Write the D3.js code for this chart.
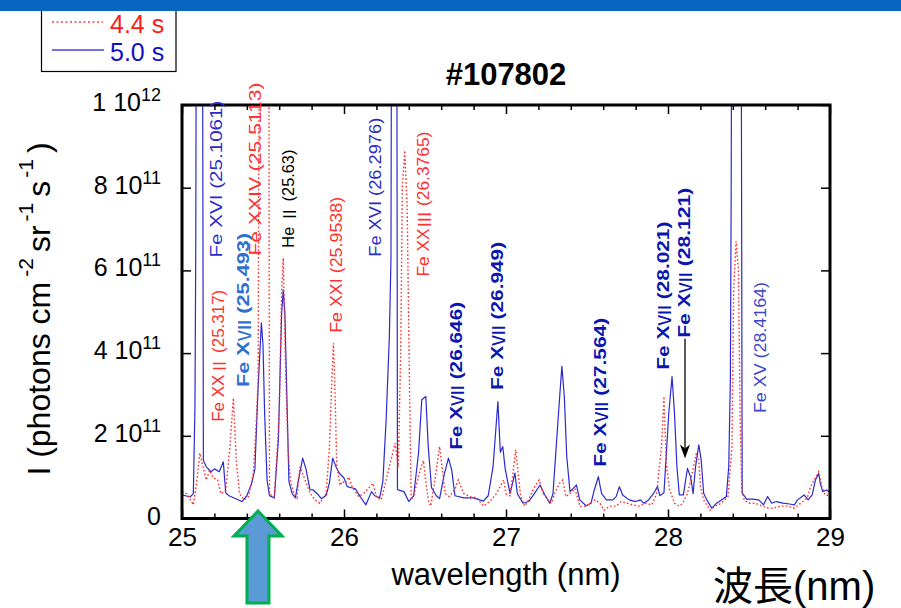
<!DOCTYPE html>
<html><head><meta charset="utf-8">
<script src="https://cdn.jsdelivr.net/npm/d3@7"></script>
<style>
body{margin:0;background:#fff}
svg{display:block}
text{font-family:"Liberation Sans",Arial,"Noto Sans CJK JP",sans-serif}
</style>
</head><body>
<svg id="c" width="901" height="608"></svg>
<script>
// intensity in units of 1e11 photons cm^-2 sr^-1 s^-1 ; wavelength in nm
const spectrum50 = [[25.00,0.57],[25.05,0.52],[25.07,0.60],[25.08,2.70],[25.085,6.60],[25.09,16],[25.125,16],[25.132,1.40],[25.15,1.25],[25.18,1.13],[25.20,1.20],[25.23,1.13],[25.255,1.37],[25.27,0.62],[25.29,0.55],[25.37,0.41],[25.40,0.55],[25.43,0.85],[25.45,1.20],[25.47,3.19],[25.49,4.73],[25.50,4.20],[25.51,2.55],[25.525,0.93],[25.54,0.55],[25.57,0.50],[25.595,1.90],[25.615,4.97],[25.625,5.53],[25.635,4.97],[25.645,3.35],[25.66,0.90],[25.68,0.60],[25.70,0.50],[25.715,0.85],[25.745,1.46],[25.765,1.20],[25.79,0.70],[25.81,0.69],[25.84,0.58],[25.86,0.48],[25.89,0.56],[25.91,0.86],[25.93,1.46],[25.95,1.26],[25.97,1.10],[26.00,0.98],[26.02,0.77],[26.04,0.75],[26.07,0.72],[26.10,0.53],[26.135,0.33],[26.17,0.65],[26.19,0.55],[26.22,0.50],[26.24,0.90],[26.26,2.38],[26.28,4.40],[26.29,6.30],[26.295,16],[26.325,16],[26.33,0.70],[26.37,0.65],[26.40,0.41],[26.43,0.55],[26.46,1.58],[26.48,2.87],[26.505,2.95],[26.52,1.74],[26.54,0.75],[26.57,0.55],[26.59,0.48],[26.62,1.09],[26.645,1.46],[26.665,1.17],[26.685,0.55],[26.74,0.50],[26.80,0.50],[26.86,0.42],[26.89,0.55],[26.92,1.25],[26.95,2.83],[26.965,1.60],[26.98,1.74],[26.995,1.20],[27.025,0.60],[27.055,1.10],[27.07,0.60],[27.105,0.37],[27.14,0.41],[27.17,0.57],[27.21,0.81],[27.24,0.57],[27.27,0.37],[27.29,0.60],[27.31,1.74],[27.33,2.87],[27.345,3.68],[27.36,2.95],[27.375,1.50],[27.395,0.65],[27.415,0.73],[27.435,0.81],[27.455,0.45],[27.495,0.31],[27.525,0.37],[27.545,0.69],[27.57,1.01],[27.59,0.60],[27.62,0.45],[27.66,0.45],[27.68,0.53],[27.70,0.77],[27.72,0.57],[27.76,0.45],[27.80,0.41],[27.83,0.45],[27.85,0.37],[27.88,0.45],[27.91,0.60],[27.935,0.77],[27.95,0.55],[27.975,0.62],[27.99,1.58],[28.005,2.55],[28.025,3.43],[28.04,2.55],[28.055,1.25],[28.07,0.57],[28.095,0.57],[28.12,1.21],[28.14,1.00],[28.155,0.60],[28.17,1.25],[28.19,1.78],[28.205,1.41],[28.22,0.61],[28.24,0.45],[28.27,0.25],[28.30,0.37],[28.33,0.45],[28.36,0.53],[28.375,1.25],[28.385,3.35],[28.39,7.90],[28.395,16],[28.45,16],[28.458,0.62],[28.485,0.47],[28.52,0.47],[28.56,0.45],[28.59,0.33],[28.615,0.53],[28.64,0.37],[28.67,0.41],[28.71,0.37],[28.75,0.35],[28.78,0.33],[28.80,0.45],[28.84,0.57],[28.865,0.45],[28.89,0.57],[28.91,0.93],[28.93,1.09],[28.94,0.85],[28.955,0.65],[28.98,0.69],[29.00,0.63]];

const spectrum44 = [[25.00,0.65],[25.03,0.60],[25.07,0.33],[25.09,0.85],[25.11,1.58],[25.13,1.25],[25.15,0.93],[25.17,1.17],[25.19,1.00],[25.22,0.93],[25.24,0.60],[25.27,0.69],[25.296,1.74],[25.317,2.91],[25.335,1.42],[25.355,0.60],[25.385,0.45],[25.41,0.53],[25.44,1.09],[25.455,2.07],[25.47,3.35],[25.48,16],[25.535,16],[25.54,0.60],[25.57,0.50],[25.60,2.50],[25.615,5.50],[25.625,6.30],[25.64,3.50],[25.655,1.60],[25.67,0.90],[25.69,0.60],[25.71,0.50],[25.728,1.25],[25.76,0.93],[25.79,0.62],[25.82,0.45],[25.85,0.37],[25.89,0.60],[25.91,1.74],[25.925,3.35],[25.935,4.24],[25.945,3.00],[25.955,1.30],[25.975,0.80],[25.99,0.90],[26.006,0.85],[26.03,1.00],[26.05,0.77],[26.09,0.53],[26.12,0.60],[26.16,0.77],[26.18,0.85],[26.20,0.53],[26.23,0.45],[26.26,0.93],[26.295,1.50],[26.315,1.82],[26.335,1.25],[26.35,4.00],[26.36,8.00],[26.375,8.90],[26.39,7.50],[26.405,3.00],[26.415,0.45],[26.43,0.55],[26.47,1.17],[26.49,1.40],[26.505,0.90],[26.52,0.45],[26.535,0.30],[26.56,0.90],[26.59,1.74],[26.605,1.25],[26.625,0.60],[26.65,0.53],[26.685,0.70],[26.705,0.93],[26.74,0.60],[26.78,0.53],[26.82,0.50],[26.86,0.30],[26.90,0.41],[26.94,0.60],[26.985,0.93],[27.00,0.60],[27.025,0.55],[27.045,1.17],[27.06,1.66],[27.075,1.10],[27.09,0.55],[27.115,0.30],[27.14,0.45],[27.17,0.73],[27.205,0.93],[27.23,0.60],[27.26,0.45],[27.28,0.37],[27.30,0.60],[27.33,0.85],[27.35,0.93],[27.37,0.53],[27.395,0.60],[27.425,0.73],[27.457,0.29],[27.49,0.30],[27.52,0.37],[27.55,0.45],[27.58,0.37],[27.605,0.20],[27.64,0.30],[27.68,0.30],[27.71,0.41],[27.75,0.37],[27.78,0.33],[27.82,0.30],[27.86,0.37],[27.90,0.33],[27.93,0.60],[27.96,1.74],[27.975,2.95],[27.99,1.30],[28.01,0.70],[28.04,0.37],[28.07,0.30],[28.09,0.37],[28.12,0.60],[28.14,0.93],[28.175,1.58],[28.19,1.42],[28.20,0.77],[28.22,0.45],[28.26,0.20],[28.29,0.30],[28.33,0.37],[28.37,0.53],[28.395,1.74],[28.405,5.50],[28.42,6.70],[28.435,6.00],[28.445,2.50],[28.455,0.70],[28.47,0.45],[28.50,0.37],[28.54,0.37],[28.58,0.30],[28.62,0.25],[28.65,0.25],[28.70,0.30],[28.74,0.30],[28.78,0.25],[28.82,0.37],[28.86,0.50],[28.88,0.77],[28.93,1.13],[28.95,0.77],[28.97,0.57],[29.00,0.55]];

const seriesNames = ["4.4 s", "5.0 s"];
const xMajorTicks = [25, 26, 27, 28, 29];
const yMajorTicks = [0, 2, 4, 6, 8, 10];
const yTickLabels = [["0",""],["2 10","11"],["4 10","11"],["6 10","11"],["8 10","11"],["1 10","12"]];

// line labels: text, anchor wavelength (label centre), anchor intensity (label start), kind
const lineLabels = [
  ["Fe XVI (25.1061)", 25.210, 6.31, "blue"],
  ["Fe XXIV (25.5113)", 25.451, 6.36, "red"],
  ["He Ⅱ (25.63)", 25.654, 6.55, "black"],
  ["Fe XXI (25.9538)", 25.951, 4.49, "red"],
  ["Fe XVI (26.2976)", 26.191, 6.33, "blue"],
  ["Fe XXⅢ (26.3765)", 26.488, 5.85, "red"],
  ["Fe XXⅡ (25.317)", 25.222, 2.34, "red"],
  ["Fe XⅦ (25.493)", 25.377, 3.18, "mid"],
  ["Fe XⅦ (26.646)", 26.691, 1.66, "dark"],
  ["Fe XⅦ (26.949)", 26.944, 3.11, "dark"],
  ["Fe XⅦ (27.564)", 27.580, 1.25, "dark"],
  ["Fe XⅦ (28.021)", 27.969, 3.60, "dark"],
  ["Fe XⅦ (28.121)", 28.099, 4.37, "dark"],
  ["Fe XV (28.4164)", 28.568, 2.55, "blue2"]
];
const labelLengths = [157,173,98,136,139,145,132,154,148,148,149,148,150,131];

const svg = d3.select("#c");
const x = d3.scaleLinear([25, 29], [182, 830]);
const y = d3.scaleLinear([0, 10], [518.5, 105]);

// legend
const lg = svg.append("g");
lg.append("rect").attr("x",41.5).attr("y",4).attr("width",134.5).attr("height",67.5)
  .attr("fill","#fff").attr("stroke","#000").attr("stroke-width",1.2);
lg.append("line").attr("x1",52).attr("x2",103).attr("y1",22).attr("y2",22)
  .attr("stroke","#ff4040").attr("stroke-width",1.3).attr("stroke-dasharray","2,2.5");
lg.append("line").attr("x1",52).attr("x2",104).attr("y1",50).attr("y2",50)
  .attr("stroke","#4545d8").attr("stroke-width",1.5);
lg.append("text").attr("x",110).attr("y",33).attr("font-size",25).attr("fill","#ff1a1a").text(seriesNames[0]);
lg.append("text").attr("x",110).attr("y",61).attr("font-size",25).attr("fill","#1010c0").text(seriesNames[1]);
// top band
svg.append("rect").attr("x",0).attr("y",0).attr("width",901).attr("height",11).attr("fill","#0865c0");

// title
svg.append("text").attr("x",506).attr("y",85).attr("text-anchor","middle")
  .attr("font-size",31).attr("font-weight","bold").text("#107802");

// clip
svg.append("clipPath").attr("id","pc").append("rect")
  .attr("x",182).attr("y",105).attr("width",648).attr("height",413.5);

const line = d3.line().x(d => x(d[0])).y(d => y(d[1]));
const plot = svg.append("g").attr("clip-path","url(#pc)");
plot.append("path").datum(spectrum50).attr("d",line).attr("fill","none")
  .attr("stroke","#2a2ad0").attr("stroke-width",1.2).attr("stroke-linejoin","round");
plot.append("path").datum(spectrum44).attr("d",line).attr("fill","none")
  .attr("stroke","#ff3030").attr("stroke-width",1.4).attr("stroke-dasharray","1.6,2.2");

// axes (inward ticks)
const minorX = d3.range(25, 29.001, 0.2).filter(v => Math.abs(v - Math.round(v)) > 1e-6);
function styleAxis(g){ g.select(".domain").remove(); g.selectAll("line").attr("stroke","#000").attr("stroke-width",1.5); }
svg.append("g").attr("transform","translate(0,518.5)")
  .call(d3.axisBottom(x).tickValues(xMajorTicks).tickSize(-9).tickPadding(9).tickFormat(d3.format("d")))
  .call(styleAxis)
  .call(g => g.selectAll("text").attr("font-size",26).attr("fill","#000")
      .attr("font-family","'Liberation Sans',Arial,sans-serif"));
svg.append("g").attr("transform","translate(0,518.5)")
  .call(d3.axisBottom(x).tickValues(minorX).tickSize(-5).tickFormat("")).call(styleAxis);
svg.append("g").attr("transform","translate(0,105)")
  .call(d3.axisTop(x).tickValues(xMajorTicks).tickSize(-9).tickFormat("")).call(styleAxis);
svg.append("g").attr("transform","translate(0,105)")
  .call(d3.axisTop(x).tickValues(minorX).tickSize(-5).tickFormat("")).call(styleAxis);
svg.append("g").attr("transform","translate(182,0)")
  .call(d3.axisLeft(y).tickValues(yMajorTicks).tickSize(-9).tickFormat("")).call(styleAxis);
svg.append("g").attr("transform","translate(830,0)")
  .call(d3.axisRight(y).tickValues(yMajorTicks).tickSize(-9).tickFormat("")).call(styleAxis);

// y tick labels with superscripts
yMajorTicks.forEach((v,i) => {
  const t = svg.append("text").attr("x",161).attr("y",y(v)+6).attr("text-anchor","end").attr("font-size",25);
  t.append("tspan").text(yTickLabels[i][0]);
  if (yTickLabels[i][1]) t.append("tspan").attr("font-size",18).attr("dy",-10).text(yTickLabels[i][1]);
});

// frame
svg.append("rect").attr("x",182).attr("y",105).attr("width",648).attr("height",413.5)
  .attr("fill","none").attr("stroke","#000").attr("stroke-width",3);

// y title
const yt = svg.append("text").attr("transform","translate(50,309) rotate(-90)")
  .attr("text-anchor","middle").attr("font-size",32);
yt.append("tspan").text("I (photons cm");
yt.append("tspan").attr("font-size",21).attr("dy",-17).attr("dx",5).text("-2");
yt.append("tspan").attr("dy",17).attr("dx",6).text("sr");
yt.append("tspan").attr("font-size",21).attr("dy",-17).attr("dx",4).text("-1");
yt.append("tspan").attr("dy",17).attr("dx",6).text("s");
yt.append("tspan").attr("font-size",21).attr("dy",-17).attr("dx",3).text("-1");
yt.append("tspan").attr("dy",17).attr("dx",6).text(")");

// x title
svg.append("text").attr("x",506).attr("y",585).attr("text-anchor","middle")
  .attr("font-size",31).text("wavelength (nm)");
svg.append("text").attr("x",713).attr("y",600).attr("font-size",40)
  .attr("font-family","'Noto Sans CJK JP',sans-serif").attr("fill","#000").text("波長(nm)");

// line labels
const labelColor = {blue:"#2b2bc8", red:"#ff3030", black:"#000", mid:"#2f6fd2", dark:"#0a16b0", blue2:"#3a46c8"};
lineLabels.forEach((d,i) => {
  const px = x(d[1]), py = y(d[2]);
  const t = svg.append("text").attr("transform",`translate(${px},${py}) rotate(-90)`)
    .attr("dominant-baseline","central").attr("font-size",17)
    .attr("font-weight", (d[3]==="dark"||d[3]==="mid") ? "bold" : "normal")
    .attr("fill",labelColor[d[3]])
    .attr("textLength",labelLengths[i]).attr("lengthAdjust","spacingAndGlyphs");
  // split roman-numeral glyphs into a CJK font tspan
  d[0].split(/([\u2160-\u216F]+)/).filter(s => s.length).forEach(s => {
    const ts = t.append("tspan").text(s);
    if (/[\u2160-\u216F]/.test(s)) ts.attr("font-family","'Noto Sans CJK JP',sans-serif").attr("font-weight","normal");
  });
});

// pointer arrow to Fe XVII (28.121)
const ax = x(28.105), ay1 = y(4.35), ay2 = y(1.45);
svg.append("line").attr("x1",ax).attr("x2",ax).attr("y1",ay1).attr("y2",ay2-10)
  .attr("stroke","#000").attr("stroke-width",1.3);
svg.append("path").attr("d",`M${ax},${ay2} L${ax-5},${ay2-14} L${ax},${ay2-10} L${ax+5},${ay2-14} Z`).attr("fill","#000");

// big up arrow
const tipX = x(25.469), tipY = 511;
svg.append("path")
  .attr("d",`M${tipX},${tipY} L${tipX+24},${tipY+25} L${tipX+11},${tipY+25} L${tipX+11},603 L${tipX-11},603 L${tipX-11},${tipY+25} L${tipX-24},${tipY+25} Z`)
  .attr("fill","#5b9bd5").attr("stroke","#00b050").attr("stroke-width",3).attr("stroke-linejoin","miter");
</script>
</body></html>
